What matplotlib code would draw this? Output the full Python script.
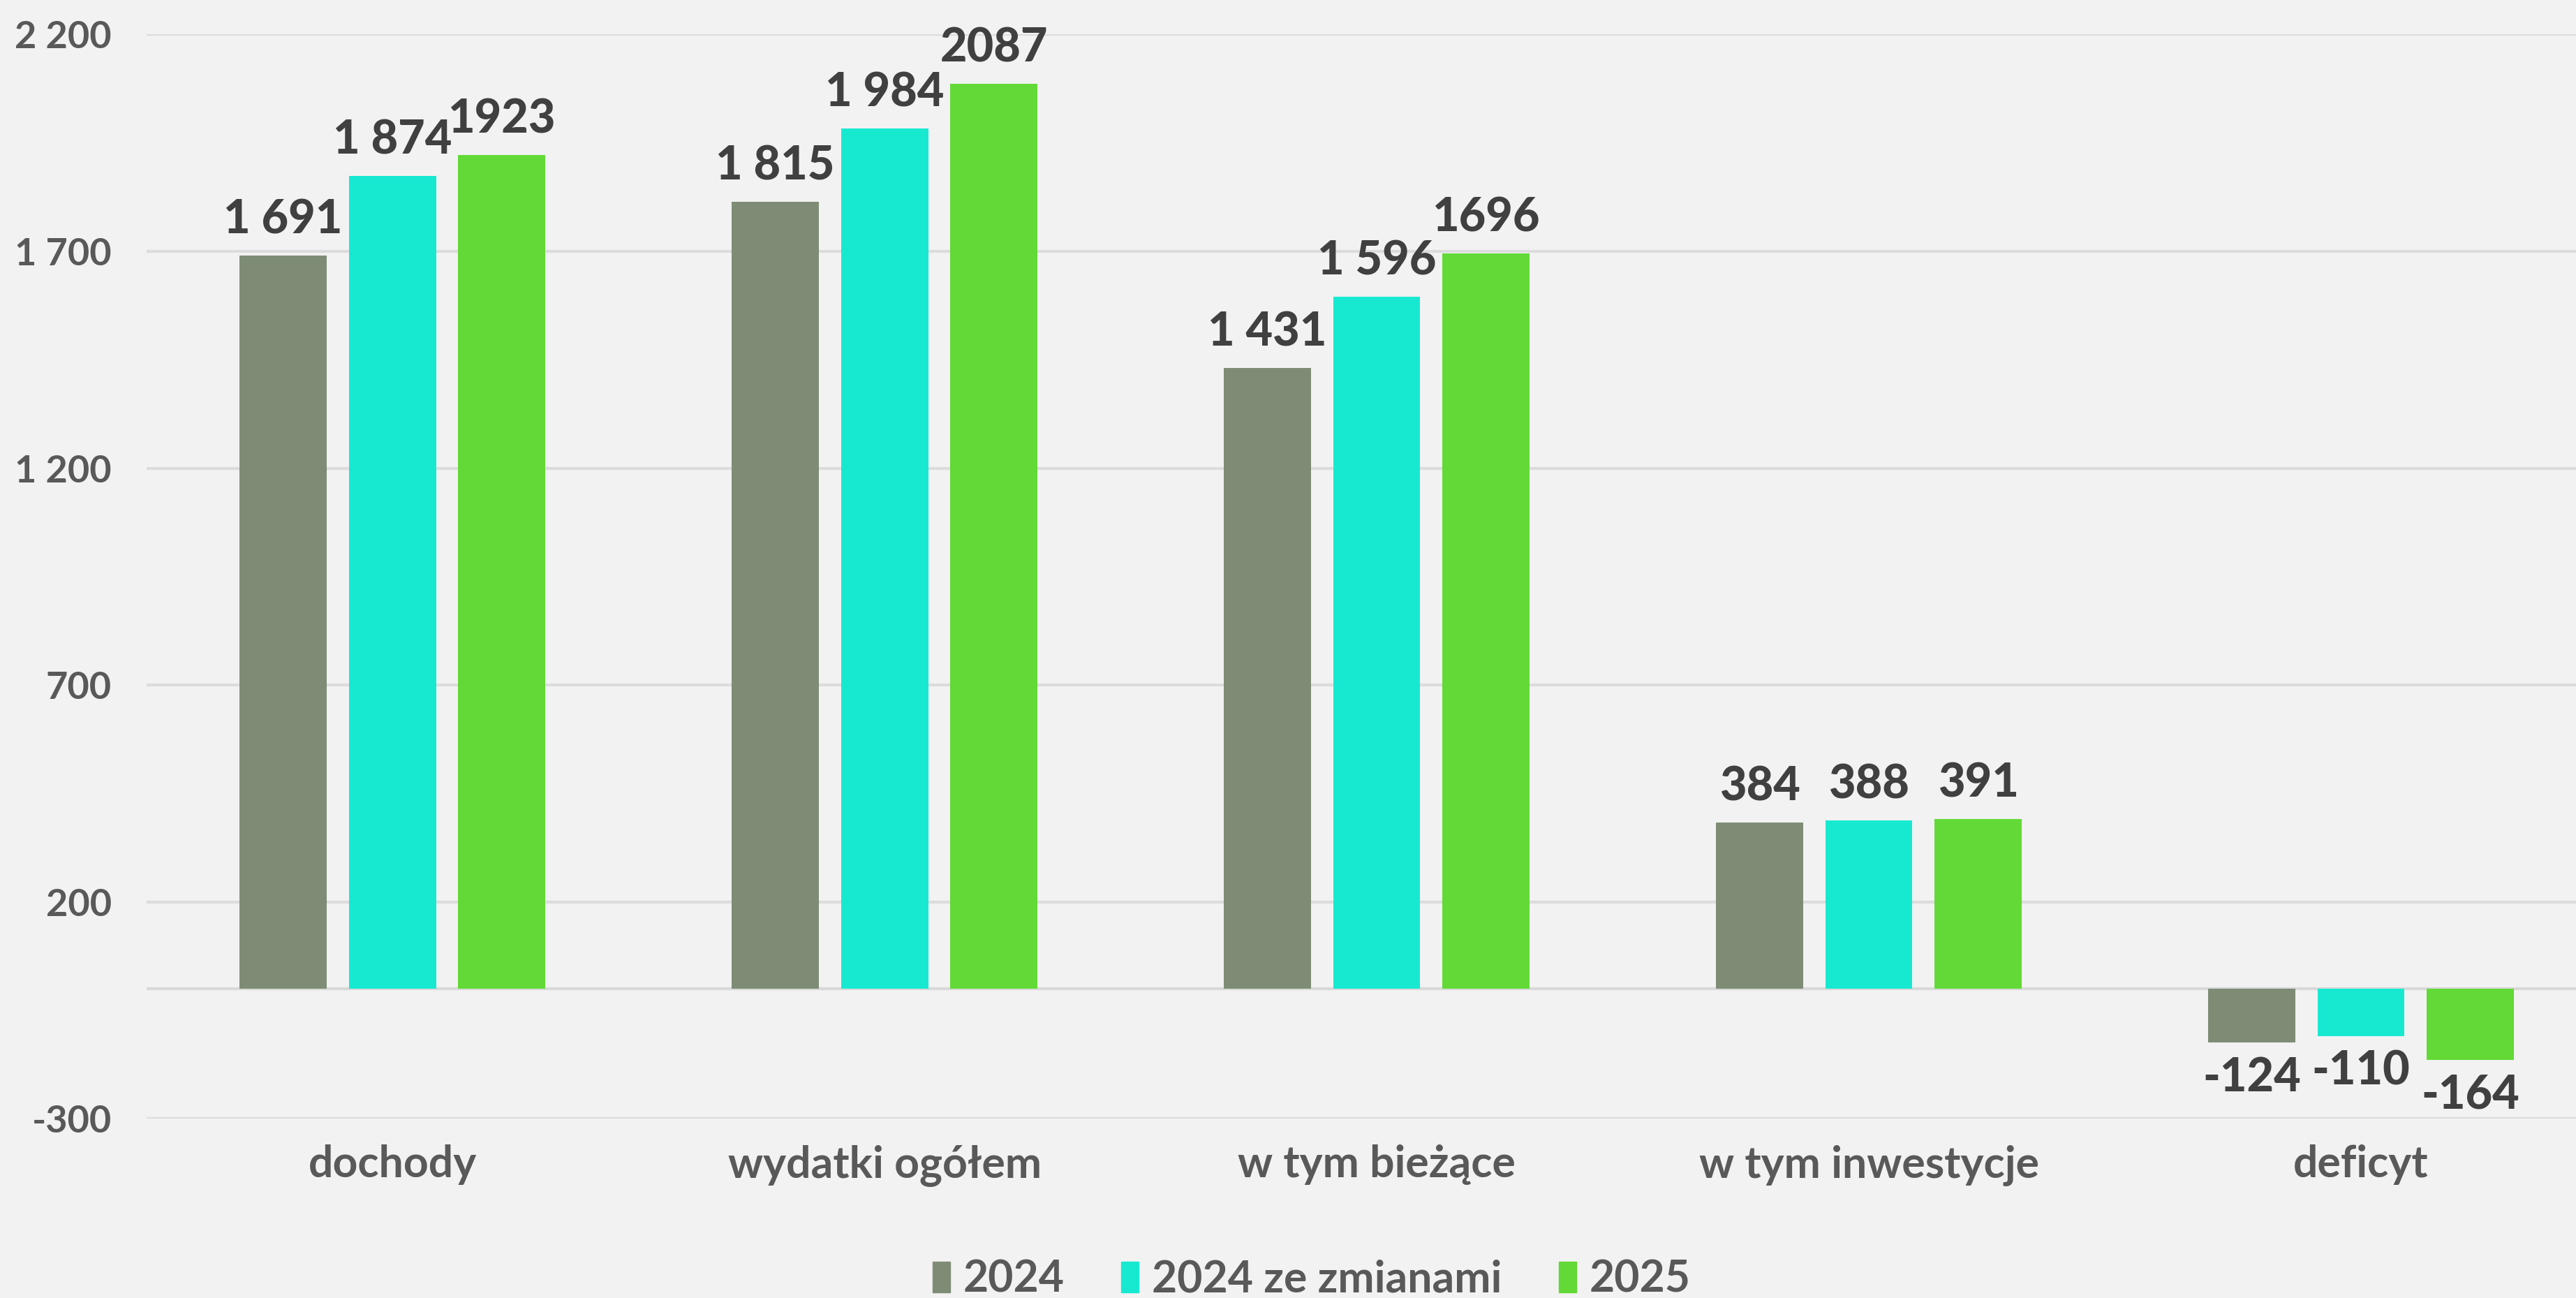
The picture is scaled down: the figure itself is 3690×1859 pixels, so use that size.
import numpy as np
import matplotlib.pyplot as plt
from matplotlib.patches import Patch

# data
categories = ["dochody", "wydatki ogółem", "w tym bieżące", "w tym inwestycje", "deficyt"]
series_names = ["2024", "2024 ze zmianami", "2025"]
v2024 = [1691, 1815, 1431, 384, -124]
v2024z = [1874, 1984, 1596, 388, -110]
v2025 = [1923, 2087, 1696, 391, -164]
lab2024 = ["1 691", "1 815", "1 431", "384", "-124"]
lab2024z = ["1 874", "1 984", "1 596", "388", "-110"]
lab2025 = ["1923", "2087", "1696", "391", "-164"]
yticks = [-300, 200, 700, 1200, 1700, 2200]

colors = ["#7e8c75", "#17e9d1", "#62d936"]
bg = "#f2f2f2"

plt.rcParams['font.family'] = ['Lato', 'DejaVu Sans']

fig = plt.figure(figsize=(36.91, 18.59), dpi=100, facecolor=bg)
ax = fig.add_axes([0.0568, 0.138, 0.955, 0.8354])
ax.set_facecolor(bg)

x = np.arange(len(categories))
w = 0.177
step = 0.222
for i, (vals, labs) in enumerate(zip([v2024, v2024z, v2025], [lab2024, lab2024z, lab2025])):
    bars = ax.bar(x + (i - 1) * step, vals, width=w, color=colors[i], zorder=3)
    ax.bar_label(bars, labels=labs, padding=14, fontsize=48, fontweight=900,
                 color="#404040")

ax.set_xlim(-0.5, len(categories) - 0.5)
ax.set_ylim(-300, 2200)
ax.set_yticks(yticks)
ax.set_yticklabels([f"{v:,}".replace(",", " ") for v in yticks])
ax.grid(axis='y', color="#dcdcdc", linewidth=3, zorder=0)
ax.axhline(0, color="#d9d9d9", linewidth=3, zorder=1)

ax.set_xticks(x)
ax.set_xticklabels(categories)
ax.tick_params(axis='x', length=0, pad=26, labelsize=45, labelcolor="#595959")
ax.tick_params(axis='y', length=0, pad=36, labelsize=39, labelcolor="#595959")
for t in ax.get_xticklabels() + ax.get_yticklabels():
    t.set_fontweight('bold')
for s in ax.spines.values():
    s.set_visible(False)

handles = [Patch(color=c) for c in colors]
leg = fig.legend(handles, series_names, loc='center', bbox_to_anchor=(0.509, 0.014),
                 ncol=3, frameon=False, handlelength=0.4, handleheight=0.7,
                 handletextpad=0.3, columnspacing=1.3,
                 prop={'size': 45, 'weight': 'bold'})
for t in leg.get_texts():
    t.set_color("#595959")

fig.savefig("out.png", dpi=100, facecolor=bg)
